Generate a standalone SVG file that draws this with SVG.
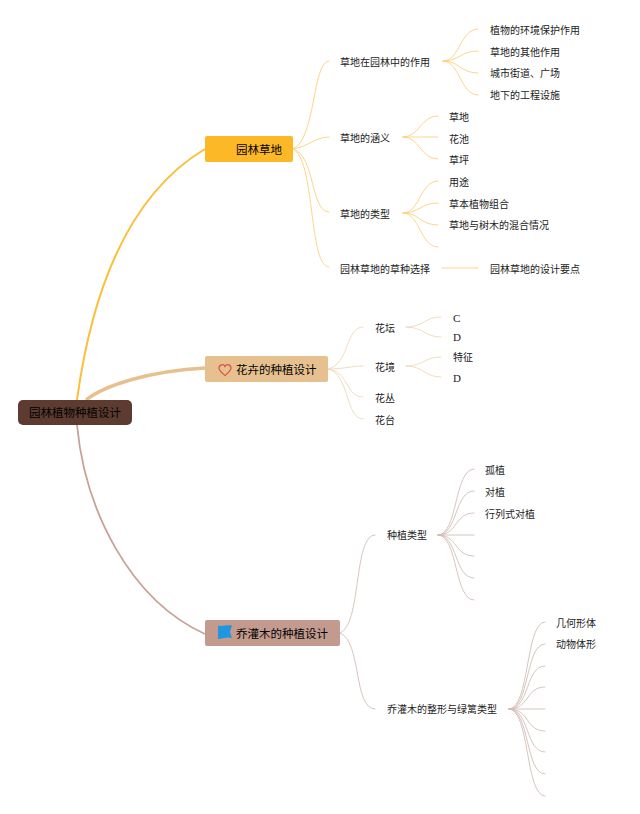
<svg xmlns="http://www.w3.org/2000/svg" width="640" height="814" viewBox="0 0 640 814">
<style>
text{font-family:"Noto Sans CJK SC","Noto Sans",sans-serif;fill:#222;dominant-baseline:central}
.t{font-size:10px}
.m{font-size:11.5px;fill:#000}
.s{font-family:"Liberation Serif",serif;font-size:11px}
.y,.b,.r{fill:none;stroke-linecap:round}
.y{stroke:#fdd07a;stroke-width:.9}
.b{stroke:#eed8b8;stroke-width:.9}
.r{stroke:#d3bdb5;stroke-width:.9}
</style>
<rect width="640" height="814" fill="#fff"/>
<g id="connectors">
<path d="M77 400C92 290 128 195 205 149" fill="none" stroke="#fbbf3a" stroke-width="2"/>
<path d="M86 400C105 385 150 371 205 368" fill="none" stroke="#e6c08f" stroke-width="3.500"/>
<path d="M77 425C85 510 130 600 205 634" fill="none" stroke="#c9a196" stroke-width="1.800"/>
<g class="y">
<path d="M293 149C316 140 312 61 329 61"/>
<path d="M293 149C308 147 315 137 329 137"/>
<path d="M293 149C316 156 310 212 329 212"/>
<path d="M293 149C316 160 308 267 329 267"/>
<path d="M443 61C460 61 460 29 478 29"/>
<path d="M443 61C460 61 460 51 478 51"/>
<path d="M443 61C460 61 460 73 478 73"/>
<path d="M443 61C460 61 460 95 478 95"/>
<path d="M403 137C420 137 420 116 438 116"/>
<path d="M403 137H438"/>
<path d="M403 137C420 137 420 159 438 159"/>
<path d="M403 213C420 213 420 181 438 181"/>
<path d="M403 213C420 213 420 203 438 203"/>
<path d="M403 213C420 213 420 225 438 225"/>
<path d="M403 213C420 213 420 247 438 247"/>
<path d="M442 268H478"/>
</g>
<g class="b">
<path d="M328 369C350 364 345 327 363 327"/>
<path d="M328 369C345 369 350 366 363 366"/>
<path d="M328 369C350 372 345 397 363 397"/>
<path d="M328 369C350 374 345 419 363 419"/>
<path d="M406 327C424 327 424 317 441 317"/>
<path d="M406 327C424 327 424 337 441 337"/>
<path d="M406 366C424 366 424 357 441 357"/>
<path d="M406 366C424 366 424 377 441 377"/>
</g>
<g class="r">
<path d="M340 633C362 625 353 535 375 535"/>
<path d="M340 633C362 641 353 709 375 709"/>
<path d="M438 535C458 535 454 469 474 469"/>
<path d="M438 535C458 535 454 491 474 491"/>
<path d="M438 535C458 535 454 513 474 513"/>
<path d="M438 535H474"/>
<path d="M438 535C458 535 454 556 474 556"/>
<path d="M438 535C458 535 454 578 474 578"/>
<path d="M438 535C458 535 454 600 474 600"/>
<path d="M509 709C530 709 525 622 545 622"/>
<path d="M509 709C530 709 525 644 545 644"/>
<path d="M509 709C530 709 525 666 545 666"/>
<path d="M509 709C530 709 525 687 545 687"/>
<path d="M509 709H545"/>
<path d="M509 709C530 709 525 731 545 731"/>
<path d="M509 709C530 709 525 752 545 752"/>
<path d="M509 709C530 709 525 774 545 774"/>
<path d="M509 709C530 709 525 796 545 796"/>
</g>
</g>
<g id="root"><rect x="18" y="400" width="114" height="25" rx="5" fill="#5d3b31"/><text class="m" x="29" y="411.500">园林植物种植设计</text></g>
<g id="n1"><rect x="205" y="136" width="88" height="26" rx="2" fill="#fdb827"/><text class="m" x="236" y="148.500">园林草地</text></g>
<g id="n2"><rect x="205" y="356" width="123" height="26" rx="2" fill="#e6c08f"/>
<path d="M225 375.500C221 372 219 370.500 219 368C219 364.500 223.500 363.500 225 366.500C226.500 363.500 231 364.500 231 368C231 370.500 229 372 225 375.500Z" fill="none" stroke="#d9543f" stroke-width="1.200"/>
<text class="m" x="236" y="368.500">花卉的种植设计</text></g>
<g id="n3"><rect x="205" y="620" width="135" height="26" rx="2" fill="#c39b8e"/>
<path d="M218 625.500C222 627 227 624.500 232 625.500L230 632L232 638C227 636.500 222 638.500 218 639Z" fill="#2196e0"/>
<text class="m" x="236" y="632.500">乔灌木的种植设计</text></g>
<g id="a1"><text class="t" x="340" y="61">草地在园林中的作用</text></g>
<g id="a2"><text class="t" x="490" y="29">植物的环境保护作用</text></g>
<g id="a3"><text class="t" x="490" y="51">草地的其他作用</text></g>
<g id="a4"><text class="t" x="490" y="72">城市街道、广场</text></g>
<g id="a5"><text class="t" x="490" y="94">地下的工程设施</text></g>
<g id="b1"><text class="t" x="340" y="137">草地的涵义</text></g>
<g id="b2"><text class="t" x="449" y="116">草地</text></g>
<g id="b3"><text class="t" x="449" y="138">花池</text></g>
<g id="b4"><text class="t" x="449" y="159">草坪</text></g>
<g id="c1"><text class="t" x="340" y="213">草地的类型</text></g>
<g id="c2"><text class="t" x="449" y="181">用途</text></g>
<g id="c3"><text class="t" x="449" y="203">草本植物组合</text></g>
<g id="c4"><text class="t" x="449" y="224">草地与树木的混合情况</text></g>
<g id="d1"><text class="t" x="340" y="268">园林草地的草种选择</text></g>
<g id="d2"><text class="t" x="490" y="268">园林草地的设计要点</text></g>
<g id="e1"><text class="t" x="375" y="327">花坛</text></g>
<g id="e2"><text class="s" x="453" y="318">C</text></g>
<g id="e3"><text class="s" x="453" y="337">D</text></g>
<g id="e4"><text class="t" x="375" y="366">花境</text></g>
<g id="e5"><text class="t" x="453" y="356">特征</text></g>
<g id="e6"><text class="s" x="453" y="378">D</text></g>
<g id="e7"><text class="t" x="375" y="397">花丛</text></g>
<g id="e8"><text class="t" x="375" y="419">花台</text></g>
<g id="f1"><text class="t" x="387" y="534.500">种植类型</text></g>
<g id="f2"><text class="t" x="485" y="469">孤植</text></g>
<g id="f3"><text class="t" x="485" y="491">对植</text></g>
<g id="f4"><text class="t" x="485" y="513">行列式对植</text></g>
<g id="g1"><text class="t" x="387" y="708.500">乔灌木的整形与绿篱类型</text></g>
<g id="g2"><text class="t" x="556" y="622">几何形体</text></g>
<g id="g3"><text class="t" x="556" y="643.500">动物体形</text></g>
</svg>
